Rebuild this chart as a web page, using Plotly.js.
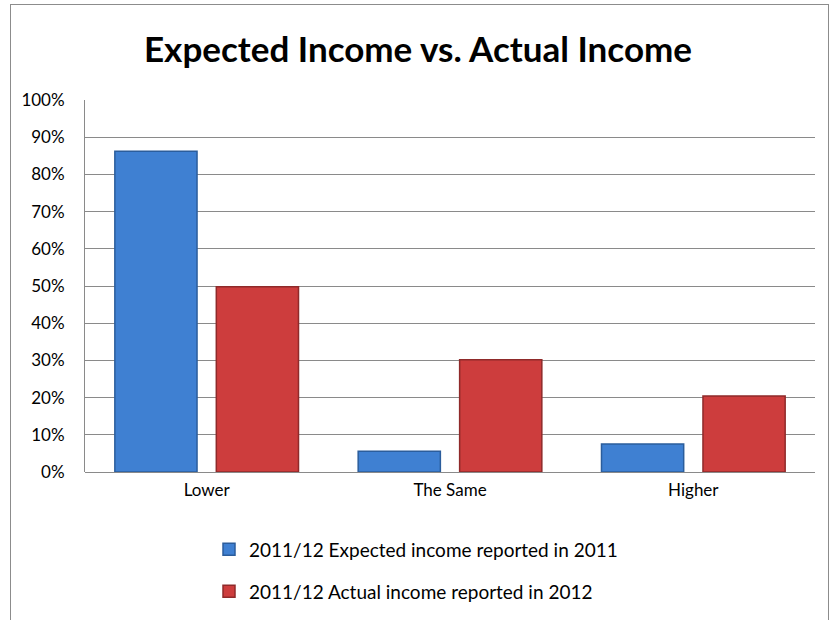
<!DOCTYPE html>
<html>
<head>
<meta charset="utf-8">
<script src="https://cdn.plot.ly/plotly-3.0.1.min.js"></script>
<style>
html,body{margin:0;padding:0;width:832px;height:620px;overflow:hidden;background:#fff;}
#frame{position:absolute;left:10px;top:4px;width:817px;height:700px;border:1px solid #8c8c8c;background:#fff;}
#chart{position:absolute;left:0;top:0;width:832px;height:620px;}
</style>
</head>
<body>
<div id="frame"></div>
<div id="chart"></div>
<script>
const categories = ["Lower", "The Same", "Higher"];
const expected2011 = [0.862, 0.056, 0.075];
const actual2012 = [0.498, 0.302, 0.204];
const seriesNames = ["2011/12 Expected income reported in 2011", "2011/12 Actual income reported in 2012"];
const yTickValues = [0, 0.1, 0.2, 0.3, 0.4, 0.5, 0.6, 0.7, 0.8, 0.9, 1.0];
const yTickLabels = ["0%", "10%", "20%", "30%", "40%", "50%", "60%", "70%", "80%", "90%", "100%"];

const font = "Lato, 'Open Sans', sans-serif";
const plotTop = 100, plotBottom = 472.5, plotLeft = 85, plotRight = 815;
const pxToPaperX = px => (px - plotLeft) / (plotRight - plotLeft);
const pxToPaperY = py => (plotBottom - py) / (plotBottom - plotTop);

const traces = [
  {
    type: "bar", x: categories, y: expected2011, name: seriesNames[0],
    marker: {color: "#3f80d2", line: {color: "#2b5d9c", width: 1.5}},
    legend: "legend", hoverinfo: "skip"
  },
  {
    type: "bar", x: categories, y: actual2012, name: seriesNames[1],
    marker: {color: "#cd3d3d", line: {color: "#8f2a2a", width: 1.5}},
    legend: "legend2", hoverinfo: "skip"
  }
];

const layout = {
  width: 832, height: 620,
  paper_bgcolor: "rgba(0,0,0,0)", plot_bgcolor: "rgba(0,0,0,0)",
  margin: {l: plotLeft, r: 832 - plotRight, t: plotTop, b: 620 - plotBottom, autoexpand: false},
  font: {family: font, color: "#000", size: 17},
  title: {
    text: "<b>Expected Income vs. Actual Income</b>",
    font: {family: font, size: 35, color: "#000"},
    x: 418/832, xref: "container", xanchor: "center",
    y: 1 - 50/620, yref: "container", yanchor: "middle"
  },
  barmode: "group", bargap: 0.166, bargroupgap: 0.19,
  xaxis: {
    type: "category", showgrid: false, zeroline: false,
    showline: false, ticks: "", tickfont: {size: 17}, ticklabelstandoff: 6
  },
  yaxis: {
    range: [0, 1.0], tickvals: yTickValues, ticktext: yTickLabels,
    showgrid: true, gridcolor: "#8a8a8a", gridwidth: 1,
    zeroline: true, zerolinecolor: "#8a8a8a", zerolinewidth: 1,
    showline: true, linecolor: "#8a8a8a", linewidth: 1,
    ticks: "", tickfont: {size: 17}, ticklabelstandoff: 16, fixedrange: true
  },
  showlegend: true,
  legend: {
    x: pxToPaperX(209), y: pxToPaperY(550),
    xanchor: "left", yanchor: "middle", font: {size: 19}, bgcolor: "rgba(0,0,0,0)"
  },
  legend2: {
    x: pxToPaperX(209), y: pxToPaperY(592),
    xanchor: "left", yanchor: "middle", font: {size: 19}, bgcolor: "rgba(0,0,0,0)"
  }
};

Plotly.newPlot("chart", traces, layout, {staticPlot: true, displayModeBar: false});
</script>
</body>
</html>
